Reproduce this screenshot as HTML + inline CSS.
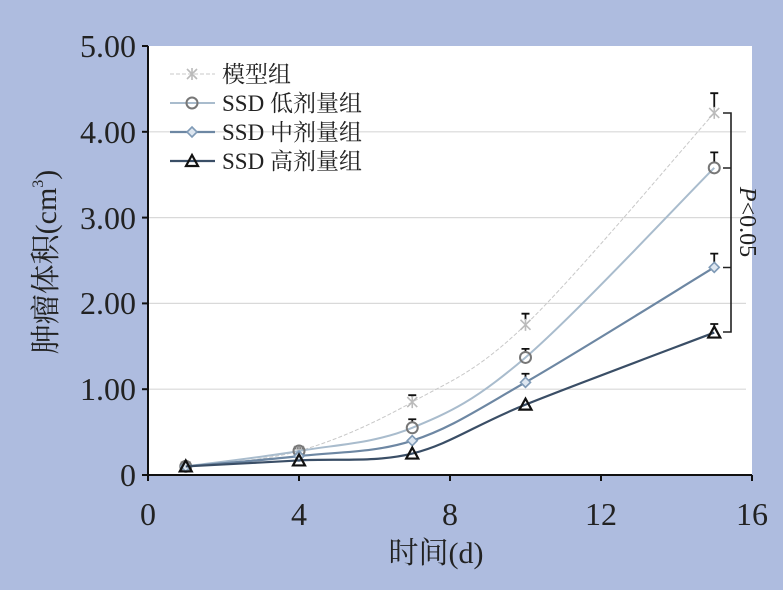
<!DOCTYPE html>
<html><head><meta charset="utf-8"><style>
body{margin:0;background:#aebcdf;}
svg{display:block;font-family:"Liberation Serif","Noto Serif CJK SC",serif;}
</style></head><body>
<svg id="s" width="783" height="590" xmlns="http://www.w3.org/2000/svg">
<rect width="783" height="590" fill="#aebcdf"/>
<rect x="148" y="46" width="604" height="429" fill="#fff"/>
<g stroke="#d9d9d9" stroke-width="1.2">
<line x1="148" x2="746" y1="389.2" y2="389.2"/>
<line x1="148" x2="746" y1="303.4" y2="303.4"/>
<line x1="148" x2="746" y1="217.6" y2="217.6"/>
<line x1="148" x2="746" y1="131.8" y2="131.8"/>
</g>
<g stroke="#111" stroke-width="2">
<line x1="148" y1="46" x2="148" y2="481"/>
<line x1="142" y1="475" x2="752" y2="475"/>
<line x1="142" y1="46" x2="148" y2="46"/>
<line x1="142" y1="131.8" x2="148" y2="131.8"/>
<line x1="142" y1="217.6" x2="148" y2="217.6"/>
<line x1="142" y1="303.4" x2="148" y2="303.4"/>
<line x1="142" y1="389.2" x2="148" y2="389.2"/>
<line x1="299" y1="475" x2="299" y2="481"/>
<line x1="450" y1="475" x2="450" y2="481"/>
<line x1="601" y1="475" x2="601" y2="481"/>
<line x1="752" y1="475" x2="752" y2="481"/>
</g>
<g font-size="32" fill="#222" text-anchor="end">
<text x="136" y="57">5.00</text><text x="136" y="143">4.00</text><text x="136" y="229">3.00</text><text x="136" y="314">2.00</text><text x="136" y="400">1.00</text><text x="136" y="486">0</text>
</g>
<g font-size="32" fill="#222" text-anchor="middle">
<text x="148" y="525">0</text><text x="299" y="525">4</text><text x="450" y="525">8</text><text x="601" y="525">12</text><text x="752" y="525">16</text>
<text x="436" y="563" font-size="30">时间(d)</text>
</g>
<text transform="translate(56,262) rotate(-90)" font-size="30" fill="#222" text-anchor="middle">肿瘤体积(cm<tspan font-size="16" dy="-13">3</tspan><tspan dy="13">)</tspan></text>
<g id="series"></g>
<g stroke="#222" stroke-width="1.6" fill="none">
<path d="M723 113 H731 V332 H723 M723 168 H731 M723 267.5 H731"/>
</g>
<text transform="translate(740,222) rotate(90)" font-size="24" fill="#222" text-anchor="middle"><tspan font-style="italic">P</tspan>&lt;0.05</text>
<g font-size="23" fill="#222">
<text x="222" y="82">模型组</text>
<text x="222" y="111">SSD 低剂量组</text>
<text x="222" y="140">SSD 中剂量组</text>
<text x="222" y="169">SSD 高剂量组</text>
</g>
<g id="leg"></g>
</svg>
<script>
const X=d=>148+d*37.75, Y=v=>475-v*85.8;
const xs=[1,4,7,10,15];
const S=[
 {c:"#c8c8c8",w:1,dash:"4,2",m:"x",v:[0.1,0.28,0.85,1.75,4.22],e:[0,0.31,0.93,1.88,4.45]},
 {c:"#a9bccd",w:2,m:"o",v:[0.1,0.28,0.55,1.37,3.58],e:[0,0,0.65,1.47,3.76]},
 {c:"#6d87a3",w:2.2,m:"d",v:[0.1,0.22,0.4,1.08,2.42],e:[0,0,0,1.18,2.58]},
 {c:"#3a4e66",w:2.2,m:"t",v:[0.1,0.17,0.25,0.82,1.66],e:[0,0,0,0,1.76]}];
const g=document.getElementById('series'),lg=document.getElementById('leg');
const ns="http://www.w3.org/2000/svg";
function el(t,a,p){const e=document.createElementNS(ns,t);for(const k in a)e.setAttribute(k,a[k]);p.appendChild(e);return e;}
function marker(m,x,y,c,p){
 if(m=="x")el('path',{d:`M${x-5} ${y-5}L${x+5} ${y+5}M${x+5} ${y-5}L${x-5} ${y+5}M${x} ${y-6}V${y+6}`,stroke:"#bbb","stroke-width":1.6},p);
 if(m=="o")el('circle',{cx:x,cy:y,r:5.5,fill:"none",stroke:"#777","stroke-width":2},p);
 if(m=="d")el('path',{d:`M${x} ${y-5}L${x+5} ${y}L${x} ${y+5}L${x-5} ${y}Z`,fill:"#dde6f0",stroke:"#7f9ab6","stroke-width":1.6},p);
 if(m=="t")el('path',{d:`M${x} ${y-6}L${x+6} ${y+5}L${x-6} ${y+5}Z`,fill:"none",stroke:"#111","stroke-width":2.2},p);
}
S.forEach((s,i)=>{
 const P=xs.map((d,j)=>[X(d),Y(s.v[j])]);
 let d=`M${P[0][0]} ${P[0][1]}`;
 for(let j=0;j<P.length-1;j++){
  const p0=P[j-1]||P[j],p1=P[j],p2=P[j+1],p3=P[j+2]||P[j+1];
  const t=6;
  d+=`C${p1[0]+(p2[0]-p0[0])/t} ${p1[1]+(p2[1]-p0[1])/t} ${p2[0]-(p3[0]-p1[0])/t} ${p2[1]-(p3[1]-p1[1])/t} ${p2[0]} ${p2[1]}`;
 }
 const a={d:d,fill:"none",stroke:s.c,"stroke-width":s.w};if(s.dash)a["stroke-dasharray"]=s.dash;
 el('path',a,g);
 P.forEach((p,j)=>{
  if(s.e[j]){const ye=Y(s.e[j]);el('path',{d:`M${p[0]} ${p[1]-5}V${ye}M${p[0]-4} ${ye}H${p[0]+4}`,stroke:"#111","stroke-width":1.8,fill:"none"},g);}
  marker(s.m,p[0],p[1],s.c,g);
 });
 const ly=74+i*29;
 const la={x1:170,x2:215,y1:ly,y2:ly,stroke:s.c,"stroke-width":s.w};if(s.dash)la["stroke-dasharray"]=s.dash;
 el('line',la,lg);marker(s.m,192,ly,s.c,lg);
});
</script>
</body></html>
